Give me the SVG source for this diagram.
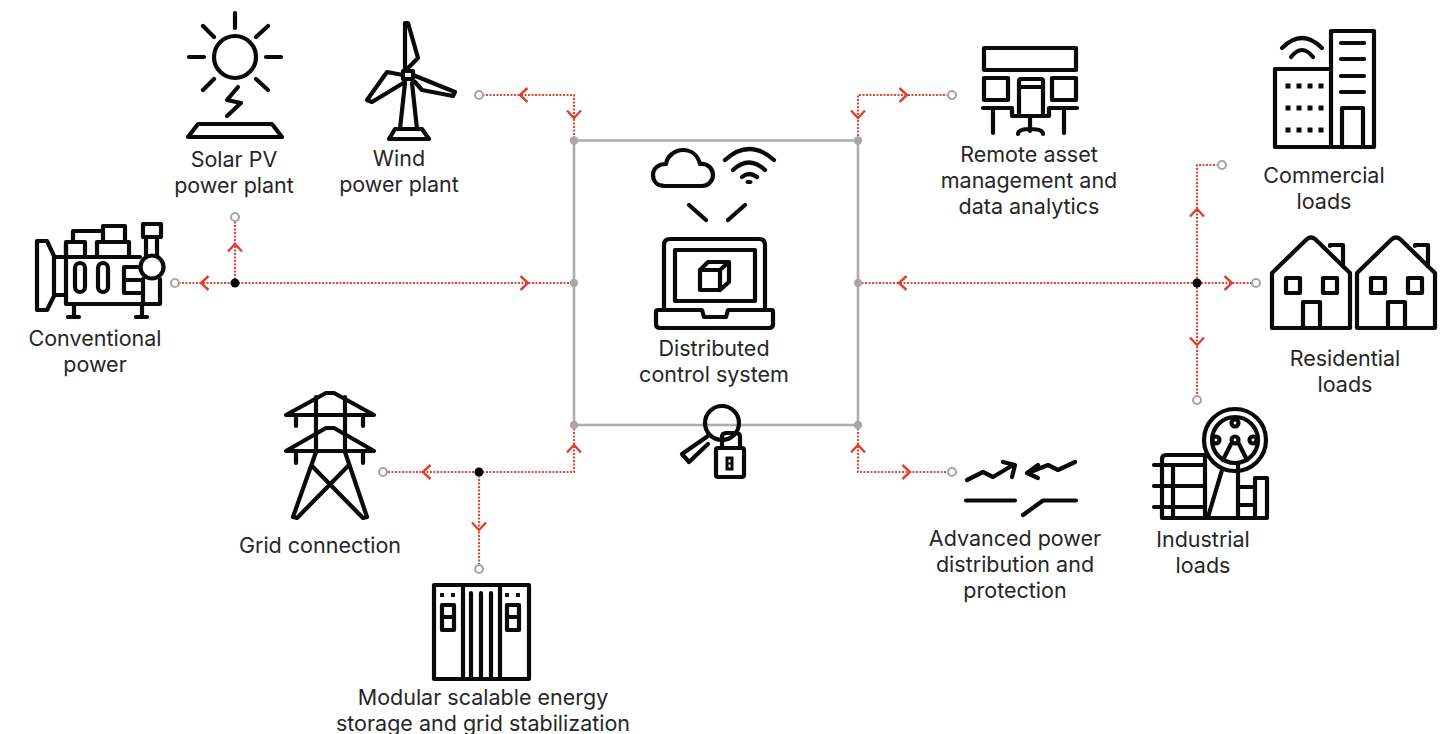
<svg xmlns="http://www.w3.org/2000/svg" width="1452" height="734" viewBox="0 0 1452 734">
<style>
.bg{fill:#fff}
.i{fill:none;stroke:#0a0a0a;stroke-width:4.200;stroke-linejoin:round;stroke-linecap:round}
.t{font-family:"Inter","Liberation Sans",sans-serif;font-size:21.5px;fill:#262626;text-anchor:middle}
.box{fill:none;stroke:#adadad;stroke-width:2.600}
.gd{fill:#a8a8a8}
.bd{fill:#000}
.oc{fill:#fff;stroke:#a8a8a8;stroke-width:2.200}
.ln{fill:none;stroke:#dd4a3a;stroke-width:2.200;stroke-dasharray:2 1.500}
.ch{fill:none;stroke:#df4030;stroke-width:2.400;stroke-linejoin:miter}
</style>
<defs>
<path id="chev" class="ch" d="M-7.500,-7 L0,0 L-7.500,7"/>
</defs>
<rect class="bg" width="1452" height="734"/>

<g id="connectors">
<path class="ln" d="M175,283 H574"/>
<path class="ln" d="M235,283 V217"/>
<path class="ln" d="M479,95 H574 V140"/>
<path class="ln" d="M952,95 H858 V140"/>
<path class="ln" d="M574,425 V472 H383"/>
<path class="ln" d="M479,472 V569"/>
<path class="ln" d="M858,425 V472 H952"/>
<path class="ln" d="M858,283 H1256"/>
<path class="ln" d="M1222,165 H1197 V400"/>
<use href="#chev" transform="translate(201,283) rotate(180)"/>
<use href="#chev" transform="translate(235,244) rotate(-90)"/>
<use href="#chev" transform="translate(528,283)"/>
<use href="#chev" transform="translate(520,95) rotate(180)"/>
<use href="#chev" transform="translate(574,118) rotate(90)"/>
<use href="#chev" transform="translate(907,95)"/>
<use href="#chev" transform="translate(858,118) rotate(90)"/>
<use href="#chev" transform="translate(574,445) rotate(-90)"/>
<use href="#chev" transform="translate(423,472) rotate(180)"/>
<use href="#chev" transform="translate(479,530) rotate(90)"/>
<use href="#chev" transform="translate(858,445) rotate(-90)"/>
<use href="#chev" transform="translate(910,472)"/>
<use href="#chev" transform="translate(899,283) rotate(180)"/>
<use href="#chev" transform="translate(1232,283)"/>
<use href="#chev" transform="translate(1197,209) rotate(-90)"/>
<use href="#chev" transform="translate(1197,345) rotate(90)"/>
<circle class="oc" cx="175" cy="283" r="4"/>
<circle class="oc" cx="235" cy="217" r="4"/>
<circle class="oc" cx="479" cy="95" r="4"/>
<circle class="oc" cx="952" cy="95" r="4"/>
<circle class="oc" cx="383" cy="472" r="4"/>
<circle class="oc" cx="479" cy="569" r="4"/>
<circle class="oc" cx="952" cy="472" r="4"/>
<circle class="oc" cx="1256" cy="283" r="4"/>
<circle class="oc" cx="1222" cy="165" r="4"/>
<circle class="oc" cx="1197" cy="400" r="4"/>
<circle class="bd" cx="235" cy="283" r="4.500"/>
<circle class="bd" cx="479" cy="472" r="4.500"/>
<circle class="bd" cx="1197" cy="283" r="4.500"/>
</g>

<g id="dcs-frame">
<rect class="box" x="574" y="140.500" width="284" height="284.500"/>
<circle class="gd" cx="574" cy="140.500" r="4.200"/>
<circle class="gd" cx="858" cy="140.500" r="4.200"/>
<circle class="gd" cx="574" cy="283" r="4.200"/>
<circle class="gd" cx="858" cy="283" r="4.200"/>
<circle class="gd" cx="574" cy="425" r="4.200"/>
<circle class="gd" cx="858" cy="425" r="4.200"/>
</g>

<g id="solar">
<circle class="i" cx="235" cy="57" r="21"/>
<path class="i" d="M235,13 V28 M189,57 H204 M266,57 H281 M203,26 L214,37 M268,26 L256,37 M203,90 L214,79 M268,90 L256,79"/>
<path class="i" d="M238,87 L227,100 L241,103 L227,116"/>
<path class="i" d="M188,137 L198,124 H272 L282,137 Z"/>
<text class="t" x="234" y="167">Solar PV</text>
<text class="t" x="234" y="193">power plant</text>
</g>

<g id="wind">
<path class="i" d="M405,83 L400,129 M412,83 L417,129 M389,139 L395,129 H422 L429,139 Z"/>
<path class="i" d="M408,68 L418,58 L408,23 L405,23 V71"/>
<path class="i" d="M403,75 L387,72 L367,100 L372,102 L405,82"/>
<path class="i" d="M413,75 L455,92 L453,96 L422,90 L415,82"/>
<rect class="i" x="403" y="71" width="10" height="8"/>
<text class="t" x="399" y="166">Wind</text>
<text class="t" x="399" y="192">power plant</text>
</g>

<g id="conventional">
<path class="i" d="M37,241 H47 L54,256 V296 L47,310 H37 Z M55,257 H66 M55,295 H66"/>
<path class="i" d="M66,245 V304 H160 V279 M66,257 H140"/>
<path class="i" d="M66,257 V242 H85 V257 M97,257 V242 H129 V257 M73,242 V231 H103 M103,242 V226 H125 V242"/>
<rect class="i" x="75" y="263" width="10" height="29" rx="5"/>
<rect class="i" x="98" y="263" width="10" height="29" rx="5"/>
<path class="i" d="M140,267 H124 V293 H140 M124,280 H140 M143,279 V304"/>
<circle class="i" cx="152" cy="267" r="11.500"/>
<rect class="i" x="143" y="224" width="18" height="13"/>
<path class="i" d="M146,237 V256 M157,237 V256 M74,304 V316 M68,317 H79 M142,304 V316 M136,317 H147"/>
<text class="t" x="95" y="346">Conventional</text>
<text class="t" x="95" y="372">power</text>
</g>

<g id="dcs">
<path class="i" d="M665,186 H702 C708,186 713,181 713,175 C713,169 708,163 700,164 C698,156 692,150 683,150 C675,150 667,156 666,164 C659,164 653,168 653,175 C653,180 656,186 665,186 Z"/>
<path class="i" d="M725,160 Q749,138 774,160 M733,170 Q749,155 765,170 M742,177 Q749,171 757,177"/>
<ellipse cx="749" cy="182" rx="3.500" ry="2" fill="#0a0a0a"/>
<path class="i" d="M689,205 L706,220 M745,205 L728,220"/>
<path class="i" d="M664,310 V245 Q664,239 670,239 H759 Q765,239 765,245 V310"/>
<rect class="i" x="675" y="250" width="80" height="51"/>
<path class="i" d="M658,310 H702 L704,317 H726 L728,310 H772 Q773,310 773,312 V324 Q773,328 769,328 H660 Q656,328 656,324 V312 Q656,310 658,310 Z"/>
<path class="i" d="M700,270 H720 V290 H700 Z M700,270 L708,262 H729 L720,270 M729,262 V282 L720,290"/>
<text class="t" x="714" y="356">Distributed</text>
<text class="t" x="714" y="382">control system</text>
</g>

<g id="security">
<circle class="i" cx="722" cy="423" r="17"/>
<path class="i" d="M708,436 L682,454 L689,462 L708,444"/>
<rect class="i" x="716" y="448" width="28" height="29" rx="2"/>
<path class="i" d="M722,448 V437 Q722,433 726,433 H736 Q740,433 740,437 V448"/>
<path d="M727,458 H732 V469 H727 Z" fill="none" stroke="#0a0a0a" stroke-width="3"/>
<path d="M727,463.500 H732" stroke="#0a0a0a" stroke-width="2"/>
</g>

<g id="remote">
<rect class="i" x="984" y="48" width="92" height="22"/>
<rect class="i" x="984" y="78" width="24" height="22"/>
<rect class="i" x="1052" y="78" width="24" height="22"/>
<path class="i" d="M1019,116 V81 Q1019,79 1021,79 H1041 Q1043,79 1043,81 V116 M1019,87 H1043"/>
<path class="i" d="M983,108 H1012 V116 H1049 V108 H1077 M993,108 V133 M1064,108 V133 M1030,116 V131 M1018,134 Q1018,129 1030,129 Q1043,129 1043,134"/>
<text class="t" x="1029" y="162">Remote asset</text>
<text class="t" x="1029" y="188">management and</text>
<text class="t" x="1029" y="214">data analytics</text>
</g>

<g id="commercial">
<path class="i" d="M1331,147 V31 H1374 V147 Z M1331,69 H1275 V147 H1331 M1342,147 V108 H1363 V147"/>
<path class="i" d="M1341,43 H1364 M1341,59 H1364 M1341,76 H1364 M1341,92 H1364"/>
<path class="i" d="M1282,48 Q1302,28 1322,48 M1291,57 Q1302,43 1313,57"/>
<path d="M1288,86 h.01 M1299,86 h.01 M1310,86 h.01 M1321,86 h.01 M1288,108 h.01 M1299,108 h.01 M1310,108 h.01 M1321,108 h.01 M1288,130 h.01 M1299,130 h.01 M1310,130 h.01 M1321,130 h.01" stroke="#0a0a0a" stroke-width="5" stroke-linecap="square" fill="none"/>
<text class="t" x="1324" y="183">Commercial</text>
<text class="t" x="1324" y="209">loads</text>
</g>

<g id="residential">
<g id="house1">
<path class="i" d="M1272,328 V273 L1307,239 Q1311,236 1315,239 L1350,273 V328 Z"/>
<path class="i" d="M1330,246 V245 H1343 V266"/>
<rect class="i" x="1286" y="278" width="14" height="15"/>
<rect class="i" x="1323" y="278" width="14" height="15"/>
<path class="i" d="M1303,328 V302 H1320 V328"/>
</g>
<g id="house2" transform="translate(85,0)">
<path class="i" d="M1272,328 V273 L1307,239 Q1311,236 1315,239 L1350,273 V328 Z"/>
<path class="i" d="M1330,246 V245 H1343 V266"/>
<rect class="i" x="1286" y="278" width="14" height="15"/>
<rect class="i" x="1323" y="278" width="14" height="15"/>
<path class="i" d="M1303,328 V302 H1320 V328"/>
</g>
<text class="t" x="1345" y="366">Residential</text>
<text class="t" x="1345" y="392">loads</text>
</g>

<g id="industrial">
<circle class="i" cx="1235" cy="440" r="31"/>
<circle class="i" cx="1235" cy="440" r="23"/>
<circle class="i" cx="1235" cy="423" r="3.500"/>
<circle class="i" cx="1216" cy="440" r="3.500"/>
<circle class="i" cx="1253" cy="440" r="3.500"/>
<circle class="i" cx="1235" cy="440" r="3.500"/>
<path class="i" d="M1223,460 L1231,444 M1247,460 L1239,444"/>
<path class="i" d="M1222,470 L1208,517 M1238,463 V517"/>
<path class="i" d="M1205,455 H1166 Q1162,455 1162,459 V518 H1267 V478 H1255 V518 M1173,465 V518 M1205,455 V518"/>
<path class="i" d="M1154,465 H1205 M1154,486 H1205 M1154,507 H1205 M1238,487 H1255 M1238,505 H1255"/>
<text class="t" x="1203" y="547">Industrial</text>
<text class="t" x="1203" y="573">loads</text>
</g>

<g id="distribution">
<path class="i" d="M967,480 L983,472 L993,477 L1013,465 M1003,462 L1015,465 L1012,477"/>
<path class="i" d="M1075,462 L1058,470 L1048,465 L1028,473 M1038,465 L1027,473 L1038,478"/>
<path class="i" d="M966,500.500 H1015 M1023,515 L1043,500.500 H1076"/>
<text class="t" x="1015" y="546">Advanced power</text>
<text class="t" x="1015" y="572">distribution and</text>
<text class="t" x="1015" y="598">protection</text>
</g>

<g id="grid">
<path class="i" d="M286,415 L326,393 H334 L374,415 Z M286,451 L326,428 H334 L374,451 Z"/>
<path class="i" d="M296,415 V426 M363,415 V426 M296,452 V463 M363,452 V463 M316,397 V452 M345,397 V452"/>
<path class="i" d="M316,452 L293,517 L297,518 L348,466 M345,452 L367,517 L363,518 L312,466"/>
<text class="t" x="320" y="553">Grid connection</text>
</g>

<g id="storage">
<rect class="i" x="434" y="585" width="95" height="94"/>
<path class="i" d="M463,585 V679 M500,585 V679 M471,593 V679 M481,593 V679 M491,593 V679"/>
<rect class="i" x="442" y="605" width="12" height="25"/>
<path class="i" d="M442,617 H454"/>
<rect class="i" x="507" y="605" width="12" height="25"/>
<path class="i" d="M507,617 H519"/>
<path d="M442,595 h.01 M453,595 h.01 M507,595 h.01 M518,595 h.01" stroke="#0a0a0a" stroke-width="4" stroke-linecap="square" fill="none"/>
<text class="t" x="483" y="705">Modular scalable energy</text>
<text class="t" x="483" y="731">storage and grid stabilization</text>
</g>
</svg>
